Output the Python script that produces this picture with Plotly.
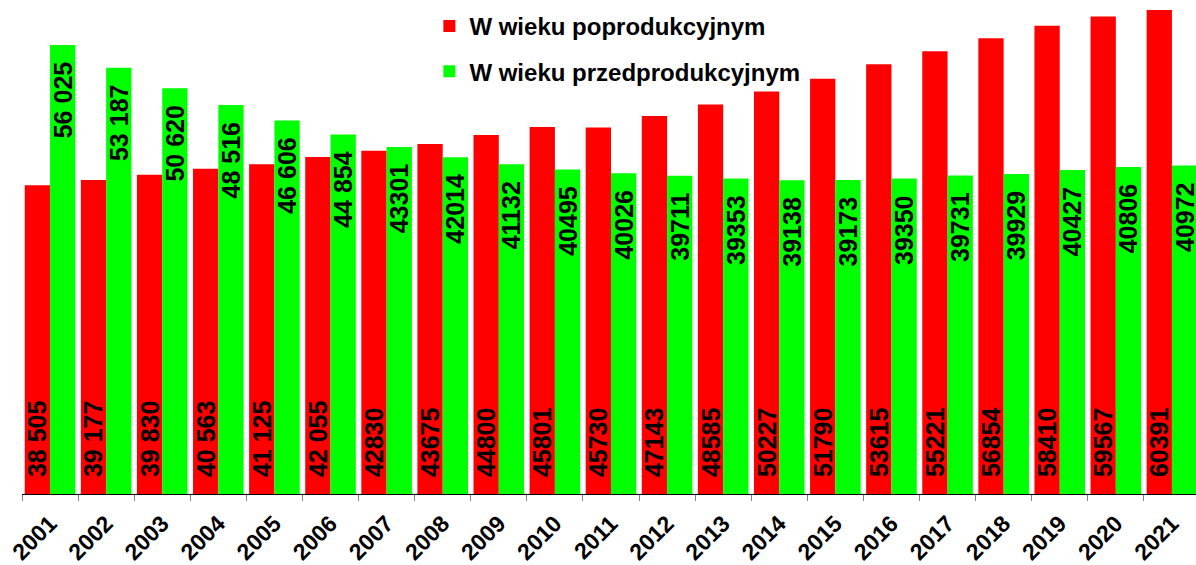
import plotly.graph_objects as go

years = [str(y) for y in range(2001, 2022)]
poprodukcyjny = [38505, 39177, 39830, 40563, 41125, 42055, 42830, 43675, 44800, 45801, 45730,
                 47143, 48585, 50227, 51790, 53615, 55221, 56854, 58410, 59567, 60391]
przedprodukcyjny = [56025, 53187, 50620, 48516, 46606, 44854, 43301, 42014, 41132, 40495, 40026,
                    39711, 39353, 39138, 39173, 39350, 39731, 39929, 40427, 40806, 40972]
label_popr = ["38 505", "39 177", "39 830", "40 563", "41 125", "42 055", "42830", "43675", "44800",
              "45801", "45730", "47143", "48585", "50227", "51790", "53615", "55221", "56854",
              "58410", "59567", "60391"]
label_przed = ["56 025", "53 187", "50 620", "48 516", "46 606", "44 854", "43301", "42014", "41132",
               "40495", "40026", "39711", "39353", "39138", "39173", "39350", "39731", "39929",
               "40427", "40806", "40972"]

FONT = "Liberation Sans, Arial, sans-serif"
PAD = "\u00a0\u00a0"

fig = go.Figure()
fig.add_trace(go.Bar(
    x=years, y=poprodukcyjny, name="W wieku poprodukcyjnym",
    marker=dict(color="#FF0000", line=dict(width=0)),
    text=[PAD + t for t in label_popr], textposition="inside", insidetextanchor="start",
    textangle=-90, constraintext="none",
    textfont=dict(family=FONT, size=25, color="black", weight="bold"),
    legendgroup="a",
))
fig.add_trace(go.Bar(
    x=years, y=przedprodukcyjny, name="W wieku przedprodukcyjnym",
    marker=dict(color="#00FF00", line=dict(width=0)),
    text=[t + PAD for t in label_przed], textposition="inside", insidetextanchor="end",
    textangle=-90, constraintext="none",
    textfont=dict(family=FONT, size=25, color="black", weight="bold"),
    legendgroup="b",
))

fig.update_layout(
    width=1196, height=565,
    margin=dict(l=22, r=0, t=0, b=69),
    paper_bgcolor="white", plot_bgcolor="white",
    barmode="group", bargap=0.098, bargroupgap=0,
    font=dict(family=FONT, color="black"),
    legend=dict(x=0.347, y=0.992, xanchor="left", yanchor="top",
                bgcolor="rgba(0,0,0,0)", tracegroupgap=11,
                font=dict(family=FONT, size=24, color="black", weight="bold")),
    xaxis=dict(type="category", range=[-0.5, 20.429], tickson="boundaries",
               ticks="outside", ticklen=6, tickcolor="#808080", tickwidth=1,
               showline=True, linecolor="black", linewidth=1, showgrid=False,
               tickangle=-45, ticklabelstandoff=6,
               tickfont=dict(family=FONT, size=23, color="black", weight="bold")),
    yaxis=dict(range=[0, 61630], visible=False, showgrid=False, zeroline=False),
)

fig.write_html("out.html", config={"displayModeBar": False},
               post_script="document.body.style.margin='0';document.body.style.overflow='hidden';")
